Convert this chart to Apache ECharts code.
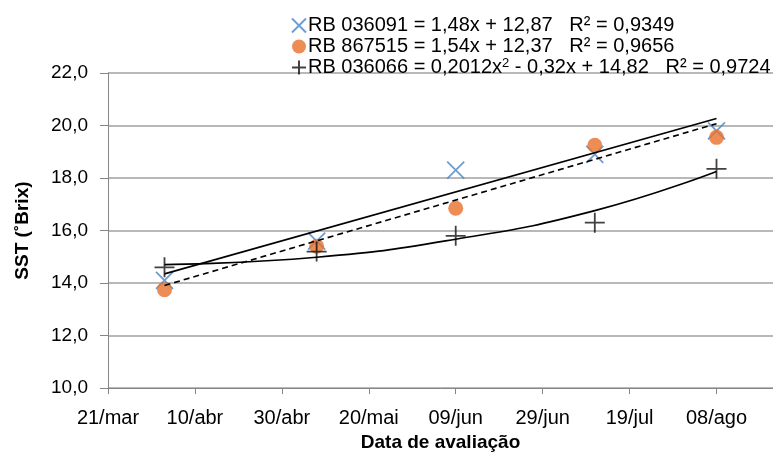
<!DOCTYPE html>
<html>
<head>
<meta charset="utf-8">
<script src="https://cdn.jsdelivr.net/npm/echarts@6/dist/echarts.min.js"></script>
<style>
  html, body { margin: 0; padding: 0; background: #fff; }
  #main { width: 773px; height: 457px; }
</style>
</head>
<body>
<div id="main"></div>
<script>
// datas de avaliação (dd/mm)
var datas = ['03/04', '08/05', '09/06', '11/07', '08/08'];
// rótulos do eixo x, a cada 20 dias desde 21/mar
var tickLabels = ['21/mar', '10/abr', '30/abr', '20/mai', '09/jun', '29/jun', '19/jul', '08/ago'];

var rb036091 = [14.1, 15.6, 18.3, 18.9, 19.8];
var rb867515 = [13.75, 15.4, 16.85, 19.25, 19.55];
var rb036066 = [14.6, 15.2, 15.8, 16.3, 18.35];

// coeficientes das linhas de tendência (x = 1..5)
var coefLin1 = [1.48, 12.87];          // a, b
var coefLin2 = [1.54, 12.37];
var coefPoly = [0.2012, -0.32, 14.82]; // a, b, c

var legendText = {
  'RB 036091': 'RB 036091 = 1,48x + 12,87   R² = 0,9349',
  'RB 867515': 'RB 867515 = 1,54x + 12,37   R² = 0,9656',
  'RB 036066': 'RB 036066 = 0,2012x{sup|2} - 0,32x + 14,82   R² = 0,9724'
};

// dias desde 21/mar
function dias(s) {
  var p = s.split('/');
  return (Date.UTC(2001, +p[1] - 1, +p[0]) - Date.UTC(2001, 2, 21)) / 86400000;
}
var xs = datas.map(dias);

function pares(vals) {
  return vals.map(function (v, i) { return [xs[i], v]; });
}
var trend1 = [[xs[0], coefLin1[0] * 1 + coefLin1[1]], [xs[4], coefLin1[0] * 5 + coefLin1[1]]];
var trend2 = [[xs[0], coefLin2[0] * 1 + coefLin2[1]], [xs[4], coefLin2[0] * 5 + coefLin2[1]]];
var trend3 = xs.map(function (x, i) {
  var k = i + 1;
  return [x, coefPoly[0] * k * k + coefPoly[1] * k + coefPoly[2]];
});

var FONT = 'Liberation Sans';
var symX = 'path://M0,0L20,20M20,0L0,20';
var symPlus = 'path://M10,0L10,20M0,10L20,10';

var myChart = echarts.init(document.getElementById('main'));
var option = {
  animation: false,
  textStyle: { fontFamily: FONT },
  grid: { left: 108, right: 0, top: 73, bottom: 64 },
  legend: {
    orient: 'vertical',
    left: 286,
    top: 10,
    itemGap: 0,
    itemWidth: 14,
    itemHeight: 14,
    selectedMode: false,
    data: ['RB 036091', 'RB 867515', 'RB 036066'],
    formatter: function (name) { return legendText[name]; },
    textStyle: {
      fontFamily: FONT,
      fontSize: 20,
      lineHeight: 21,
      color: '#000',
      padding: [0, 0, 0, -3],
      rich: {
        sup: { fontFamily: FONT, fontSize: 13, lineHeight: 11, verticalAlign: 'top', color: '#000' }
      }
    }
  },
  xAxis: {
    type: 'value',
    min: 0,
    max: 153,
    interval: 20,
    name: 'Data de avaliação',
    nameLocation: 'middle',
    nameGap: 44,
    nameTextStyle: { fontFamily: FONT, fontSize: 19, fontWeight: 'bold', color: '#000' },
    axisLine: { show: true, lineStyle: { color: '#868686', width: 1 } },
    axisTick: { show: true, length: 6, lineStyle: { color: '#868686' } },
    splitLine: { show: false },
    axisLabel: {
      margin: 20,
      fontSize: 20,
      color: '#000',
      showMaxLabel: false,
      formatter: function (v) { return tickLabels[Math.round(v / 20)] || ''; }
    }
  },
  yAxis: {
    type: 'value',
    min: 10,
    max: 22,
    interval: 2,
    name: 'SST (˚Brix)',
    nameLocation: 'middle',
    nameGap: 76,
    nameTextStyle: { fontFamily: FONT, fontSize: 19, fontWeight: 'bold', color: '#000' },
    axisLine: { show: true, lineStyle: { color: '#868686', width: 1 } },
    axisTick: { show: true, length: 8, lineStyle: { color: '#868686' } },
    splitLine: { show: true, lineStyle: { color: '#a0a0a0', width: 1.5 } },
    axisLabel: {
      margin: 20,
      fontSize: 19,
      color: '#000',
      formatter: function (v) { return v.toFixed(1).replace('.', ','); }
    }
  },
  series: [
    {
      name: 'RB 036091', type: 'scatter', symbol: symX, symbolSize: 17,
      itemStyle: { color: '#4a85c8', borderColor: '#4a85c8', borderWidth: 1.8 },
      data: pares(rb036091), z: 2
    },
    {
      name: 'RB 867515', type: 'scatter', symbol: 'circle', symbolSize: 15,
      itemStyle: { color: '#e8702a' },
      data: pares(rb867515), z: 3
    },
    {
      name: 'RB 036066', type: 'scatter', symbol: symPlus, symbolSize: 20,
      itemStyle: { color: '#111', borderColor: '#111', borderWidth: 1.8 },
      data: pares(rb036066), z: 4
    },
    {
      name: 'tend1', type: 'line', showSymbol: false, silent: true, z: 5,
      lineStyle: { color: '#000', width: 1.6 }, data: trend1
    },
    {
      name: 'tend2', type: 'line', showSymbol: false, silent: true, z: 5,
      lineStyle: { color: '#000', width: 1.6, type: [6, 4] }, data: trend2
    },
    {
      name: 'tend3', type: 'line', showSymbol: false, silent: true, z: 5, smooth: true,
      lineStyle: { color: '#000', width: 1.6 }, data: trend3
    }
  ]
};
myChart.setOption(option);
</script>
</body>
</html>
